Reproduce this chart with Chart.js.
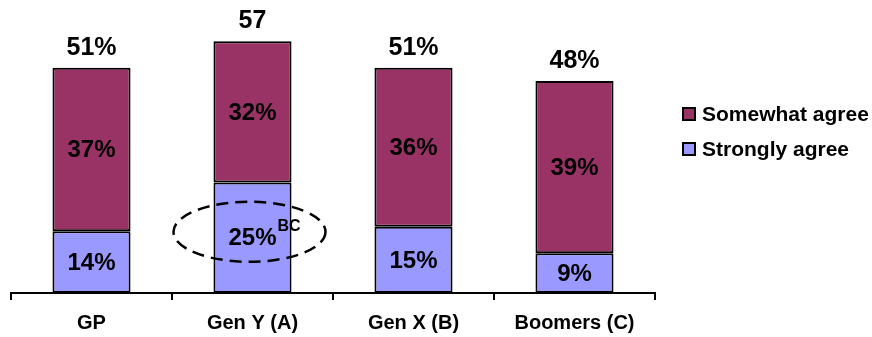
<!DOCTYPE html>
<html>
<head>
<meta charset="utf-8">
<script src="https://cdn.jsdelivr.net/npm/chart.js@4.4.1/dist/chart.umd.min.js"></script>
<style>
  body { margin: 0; background: #fff; }
</style>
</head>
<body>
<canvas id="chart" width="872" height="337"></canvas>
<script>
const categories = ['GP', 'Gen Y (A)', 'Gen X (B)', 'Boomers (C)'];
const stronglyAgree = [14, 25, 15, 9];
const somewhatAgree = [37, 32, 36, 39];
const totalLabels = ['51%', '57', '51%', '48%'];
const sigNotes = ['', 'BC', '', ''];

const FONT = '"Liberation Sans", Arial, sans-serif';

    // labels inside bars, totals, ellipse and legend
const extras = {
    id: 'extras',
    afterDatasetsDraw(chart) {
        const ctx = chart.ctx;
        const y = chart.scales.y;
        ctx.save();
        ctx.fillStyle = '#000';
        ctx.textAlign = 'center';
        ctx.textBaseline = 'middle';

        chart.data.datasets.forEach((ds, di) => {
            const meta = chart.getDatasetMeta(di);
            meta.data.forEach((bar, i) => {
                const base = di === 0 ? 0 : stronglyAgree[i];
                const mid = y.getPixelForValue(base + ds.data[i] / 2);
                ctx.font = 'bold 24px ' + FONT;
                ctx.fillText(ds.data[i] + '%', bar.x, mid + 1);
                if (di === 0 && sigNotes[i]) {
                    const w = ctx.measureText(ds.data[i] + '%').width;
                    ctx.font = 'bold 16px ' + FONT;
                    ctx.textAlign = 'left';
                    ctx.fillText(sigNotes[i], bar.x + w / 2 + 1, mid - 11);
                    ctx.textAlign = 'center';

                    ctx.beginPath();
                    ctx.setLineDash([12, 7]);
                    ctx.lineWidth = 2.5;
                    ctx.strokeStyle = '#000';
                    ctx.ellipse(bar.x - 3, mid - 6, 76, 30, 0, 0, Math.PI * 2);
                    ctx.stroke();
                    ctx.setLineDash([]);
                }
            });
        });

        // totals on top
        const top = chart.getDatasetMeta(1);
        ctx.font = 'bold 25px ' + FONT;
        ctx.textBaseline = 'alphabetic';
        top.data.forEach((bar, i) => {
            ctx.fillText(totalLabels[i], bar.x, bar.y - 13);
        });

        // legend
        const items = [chart.data.datasets[1], chart.data.datasets[0]];
        ctx.textAlign = 'left';
        ctx.textBaseline = 'middle';
        ctx.font = 'bold 21px ' + FONT;
        items.forEach((ds, k) => {
            const ly = 107 + k * 35;
            ctx.fillStyle = ds.backgroundColor;
            ctx.fillRect(683, ly + 1, 12, 12);
            ctx.lineWidth = 2;
            ctx.strokeStyle = '#000';
            ctx.strokeRect(683, ly + 1, 12, 12);
            ctx.fillStyle = '#000';
            ctx.fillText(ds.label, 702, ly + 8);
        });
        ctx.restore();
    }
};

new Chart(document.getElementById('chart'), {
    type: 'bar',
    data: {
        labels: categories,
        datasets: [
            {
                label: 'Strongly agree',
                data: stronglyAgree,
                backgroundColor: '#9999FF',
                borderColor: '#000',
                borderWidth: 2,
                borderSkipped: false
            },
            {
                label: 'Somewhat agree',
                data: somewhatAgree,
                backgroundColor: '#993366',
                borderColor: '#000',
                borderWidth: 2,
                borderSkipped: false
            }
        ]
    },
    options: {
        responsive: false,
        animation: false,
        devicePixelRatio: 1,
        layout: { padding: { top: 28, left: 11, right: 217, bottom: 0 } },
        datasets: { bar: { barPercentage: 0.485, categoryPercentage: 1 } },
        plugins: {
            legend: { display: false },
            tooltip: { enabled: false }
        },
        scales: {
            x: {
                stacked: true,
                afterFit(scale) { scale.height = 44; },
                border: { display: true, color: '#000', width: 2 },
                grid: {
                    display: true,
                    offset: true,
                    drawOnChartArea: false,
                    color: '#000',
                    lineWidth: 2,
                    tickLength: 7
                },
                ticks: {
                    color: '#000',
                    padding: 11,
                    font: { family: FONT, size: 20, weight: 'bold' }
                }
            },
            y: {
                stacked: true,
                display: false,
                min: 0,
                max: 60
            }
        }
    },
    plugins: [extras]
});
</script>
</body>
</html>
